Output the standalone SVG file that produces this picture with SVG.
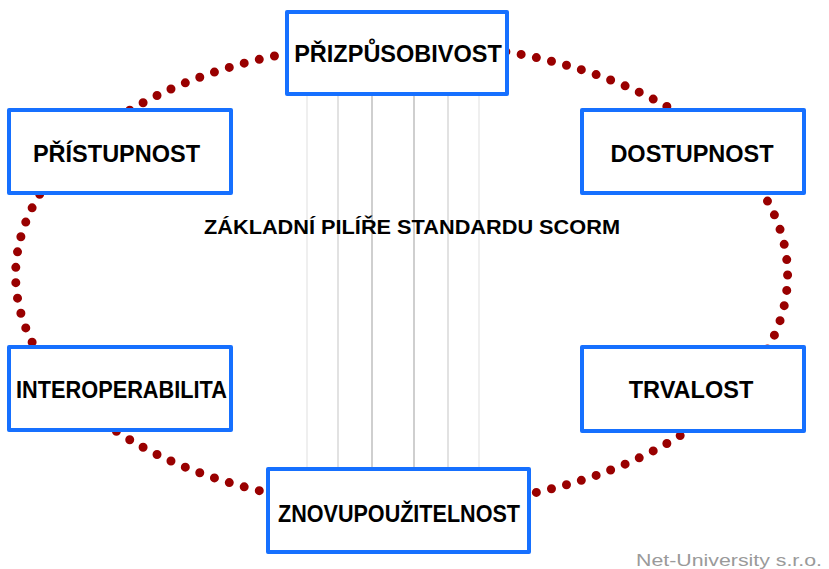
<svg xmlns="http://www.w3.org/2000/svg" width="829" height="569" viewBox="0 0 829 569">
<style>
.box{fill:#fff;stroke:#1670ff;stroke-width:4;stroke-linejoin:round}
.lbl{font-family:"Liberation Sans",Arial,sans-serif;font-weight:bold;font-size:23.5px;fill:#000;text-anchor:middle}
.vl{stroke-width:2;fill:none}
</style>
<rect width="829" height="569" fill="#fff"/>
<g id="connectors">
<line class="vl" x1="307" y1="95" x2="307" y2="468" stroke="#efefef"/>
<line class="vl" x1="338" y1="95" x2="338" y2="468" stroke="#e2e2e2"/>
<line class="vl" x1="372" y1="95" x2="372" y2="468" stroke="#cfcfcf"/>
<line class="vl" x1="414" y1="95" x2="414" y2="468" stroke="#cfcfcf"/>
<line class="vl" x1="448" y1="95" x2="448" y2="468" stroke="#e2e2e2"/>
<line class="vl" x1="479" y1="95" x2="479" y2="468" stroke="#efefef"/>
<ellipse cx="401.6" cy="275" rx="386" ry="232" fill="none" stroke="#990000" stroke-width="9" stroke-linecap="round" stroke-dasharray="0 10" pathLength="1270"/>
</g>
<text id="title" x="412" y="234" font-family="'Liberation Sans',Arial,sans-serif" font-weight="bold" font-size="21" text-anchor="middle" textLength="416" lengthAdjust="spacingAndGlyphs">ZÁKLADNÍ PILÍŘE STANDARDU SCORM</text>
<g id="n-prizpusobivost"><rect class="box" x="287" y="12" width="220" height="82"/><text class="lbl" x="398" y="62">PŘIZPŮSOBIVOST</text></g>
<g id="n-pristupnost"><rect class="box" x="9" y="110" width="222" height="83"/><text class="lbl" x="116.5" y="162">PŘÍSTUPNOST</text></g>
<g id="n-dostupnost"><rect class="box" x="582" y="110" width="222" height="83"/><text class="lbl" x="692" y="162">DOSTUPNOST</text></g>
<g id="n-interoperabilita"><rect class="box" x="9" y="347" width="222" height="83"/><text class="lbl" x="121.5" y="398" textLength="211" lengthAdjust="spacingAndGlyphs">INTEROPERABILITA</text></g>
<g id="n-trvalost"><rect class="box" x="582" y="347" width="222" height="84"/><text class="lbl" x="691" y="398">TRVALOST</text></g>
<g id="n-znovupouzitelnost"><rect class="box" x="268" y="469" width="261" height="83"/><text class="lbl" x="399" y="522" textLength="242" lengthAdjust="spacingAndGlyphs">ZNOVUPOUŽITELNOST</text></g>
<text id="credit" x="636" y="566" font-family="'Liberation Sans',Arial,sans-serif" font-size="17" fill="#9a9a9a" textLength="186" lengthAdjust="spacingAndGlyphs">Net-University s.r.o.</text>
</svg>
